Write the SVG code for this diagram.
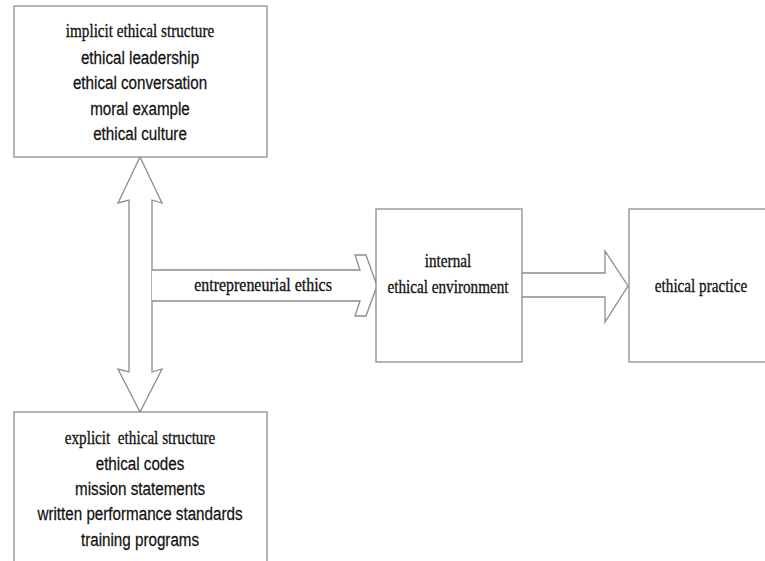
<svg xmlns="http://www.w3.org/2000/svg" width="765" height="561" viewBox="0 0 765 561">
<style>
.box{fill:#fff;stroke:#8c8c8c;stroke-width:1.3}
.arr{fill:#fff;stroke:#8c8c8c;stroke-width:1.3;stroke-linejoin:miter}
.sans{font-family:"Liberation Sans",Arial,sans-serif;font-size:19px;fill:#111;stroke:#111;stroke-width:0.25;text-anchor:middle}
.serif{font-family:"Liberation Serif","Times New Roman",serif;font-size:19px;fill:#111;stroke:#111;stroke-width:0.3;text-anchor:middle}
</style>
<rect width="765" height="561" fill="#fff"/>
<g id="connectors">
<path class="arr" d="M140,157 L162,203 L152,200 L152,372 L162,369 L140,412 L118,369 L129,372 L129,200 L118,203 Z"/>
<path class="arr" d="M152,270 L360,270 L355,255 L366,255 L377,286 L366,316 L355,316 L360,301 L152,301"/>
<path class="arr" d="M522,273 L605,273 L605,251 L628,286 L605,322 L605,297 L522,297"/>
</g>
<g id="implicit">
<rect class="box" x="14" y="6" width="253" height="151"/>
<text class="serif" transform="translate(140,36.5) scale(0.8,1)">implicit ethical structure</text>
<text class="sans" transform="translate(140,63.5) scale(0.8,1)">ethical leadership</text>
<text class="sans" transform="translate(140,89) scale(0.8,1)">ethical conversation</text>
<text class="sans" transform="translate(140,114.5) scale(0.8,1)">moral example</text>
<text class="sans" transform="translate(140,140) scale(0.8,1)">ethical culture</text>
</g>
<g id="explicit">
<rect class="box" x="14" y="412" width="253" height="170"/>
<text class="serif" transform="translate(140,444) scale(0.8,1)" xml:space="preserve">explicit  ethical structure</text>
<text class="sans" transform="translate(140,470) scale(0.8,1)">ethical codes</text>
<text class="sans" transform="translate(140,495) scale(0.8,1)">mission statements</text>
<text class="sans" transform="translate(140,520) scale(0.8,1)">written performance standards</text>
<text class="sans" transform="translate(140,545.5) scale(0.8,1)">training programs</text>
</g>
<g id="label-entrepreneurial">
<text class="serif" transform="translate(263,290.5) scale(0.84,1)">entrepreneurial ethics</text>
</g>
<g id="internal">
<rect class="box" x="376" y="209" width="146" height="153"/>
<text class="serif" transform="translate(448,267) scale(0.8,1)">internal</text>
<text class="serif" transform="translate(448,292.5) scale(0.8,1)">ethical environment</text>
</g>
<g id="practice">
<rect class="box" x="629" y="209" width="150" height="153"/>
<text class="serif" transform="translate(701,291.5) scale(0.8,1)">ethical practice</text>
</g>
</svg>
